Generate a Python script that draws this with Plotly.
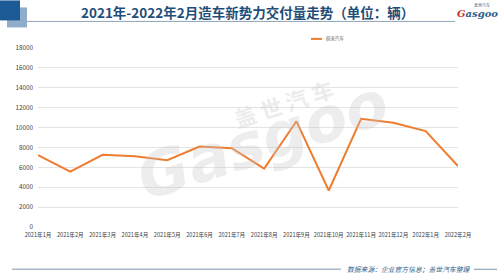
import plotly.graph_objects as go

months = ["2021年1月", "2021年2月", "2021年3月", "2021年4月", "2021年5月", "2021年6月",
          "2021年7月", "2021年8月", "2021年9月", "2021年10月", "2021年11月", "2021年12月",
          "2022年1月", "2022年2月"]
nio = [7225, 5578, 7257, 7102, 6711, 8083, 7931, 5880, 10628, 3667, 10878, 10489, 9652, 6131]
series_name = "蔚来汽车"
y_ticks = [0, 2000, 4000, 6000, 8000, 10000, 12000, 14000, 16000, 18000]
y_tick_labels = [str(v) for v in y_ticks]

FONT = "Noto Sans CJK SC"
W, H = 500, 276
L, R, T, B = 38, 42, 47.6, 49.3


def px_x(x):
    return (x - L) / (W - L - R)


def px_y(y):
    return (H - B - y) / (H - T - B)


fig = go.Figure()
fig.add_trace(go.Scatter(
    x=list(range(len(months))), y=nio, mode="lines", name=series_name,
    line=dict(color="#ED7D31", width=2), showlegend=False,
))

fig.update_layout(
    width=W, height=H,
    margin=dict(l=L, r=R, t=T, b=B),
    paper_bgcolor="white", plot_bgcolor="white",
    font=dict(family=FONT, color="#404040"),
    showlegend=False,
)
fig.update_xaxes(
    range=[0, len(months) - 1], tickmode="array",
    tickvals=list(range(len(months))), ticktext=months,
    showgrid=False, zeroline=False, showline=False, ticks="",
    tickfont=dict(size=5.6, color="#404040", family=FONT), tickangle=0,
    ticklabelstandoff=3,
)
fig.update_yaxes(
    range=[0, 18000], tickmode="array", tickvals=y_ticks, ticktext=y_tick_labels,
    showgrid=True, gridcolor="#E4E4E4", gridwidth=1, zeroline=False, showline=False,
    ticks="", tickfont=dict(size=6.3, color="#404040", family=FONT),
    ticklabelstandoff=4,
)

shapes = [
    dict(type="rect", xref="paper", yref="paper", x0=px_x(7), x1=px_x(27),
         y0=px_y(27), y1=px_y(7),
         fillcolor="#8FADCB", line=dict(width=0), layer="above"),
    dict(type="rect", xref="paper", yref="paper", x0=px_x(0), x1=px_x(20),
         y0=px_y(20), y1=px_y(0),
         fillcolor="#1C5A96", line=dict(width=0), layer="above"),
    # header line
    dict(type="line", xref="paper", yref="paper", x0=px_x(27), x1=px_x(455),
         y0=px_y(21), y1=px_y(21), line=dict(color="#8FA3B5", width=1)),
    # footer lines
    dict(type="line", xref="paper", yref="paper", x0=px_x(12), x1=px_x(341),
         y0=px_y(269), y1=px_y(269), line=dict(color="#A9B8C4", width=1.5)),
    dict(type="line", xref="paper", yref="paper", x0=px_x(474), x1=px_x(497),
         y0=px_y(269), y1=px_y(269), line=dict(color="#7F95AA", width=1)),
    # legend sample
    dict(type="line", xref="paper", yref="paper", x0=px_x(311), x1=px_x(322),
         y0=px_y(38.5), y1=px_y(38.5), line=dict(color="#ED7D31", width=2)),
]
fig.update_layout(shapes=shapes)

ann = [
    dict(text=series_name, x=px_x(323.5), y=px_y(38.5), xref="paper", yref="paper",
         showarrow=False, xanchor="left", yanchor="middle",
         font=dict(size=4.5, color="#595959", family=FONT)),
    dict(text="<b>2021年-2022年2月造车新势力交付量走势（单位：辆）</b>", x=px_x(247), y=px_y(12),
         xref="paper", yref="paper", showarrow=False, xanchor="center", yanchor="middle",
         font=dict(size=13.5, color="#1F4E79", family=FONT)),
    dict(text="数据来源：企业官方信息；盖世汽车整理", x=px_x(345), y=px_y(269),
         xref="paper", yref="paper", showarrow=False, xanchor="left", yanchor="middle",
         font=dict(size=6.8, color="#2E5C8A", family=FONT, style="italic")),
    # watermark
    dict(text="<b>盖 世 汽 车</b>", x=px_x(283), y=px_y(103), xref="paper", yref="paper",
         showarrow=False, textangle=-18, xanchor="center", yanchor="middle",
         font=dict(size=22, color="rgba(200,200,200,0.35)", family=FONT)),
    dict(text="<i><b>Gasgoo</b></i>", x=px_x(262), y=px_y(140), xref="paper", yref="paper",
         showarrow=False, textangle=-18, xanchor="center", yanchor="middle",
         font=dict(size=62, color="rgba(200,200,200,0.32)", family="DejaVu Sans")),
    # logo
    dict(text="<i><b><span style='color:#D0312D'>G</span>asgoo</b></i>", x=px_x(477), y=px_y(13),
         xref="paper", yref="paper", showarrow=False, xanchor="center", yanchor="middle",
         font=dict(size=10, color="#2E5C8A", family="DejaVu Serif")),
    dict(text="盖世汽车", x=px_x(482), y=px_y(5), xref="paper", yref="paper",
         showarrow=False, xanchor="center", yanchor="middle",
         font=dict(size=4, color="#2E5C8A", family=FONT)),
]
fig.update_layout(annotations=ann)

fig.write_html("out.html")
